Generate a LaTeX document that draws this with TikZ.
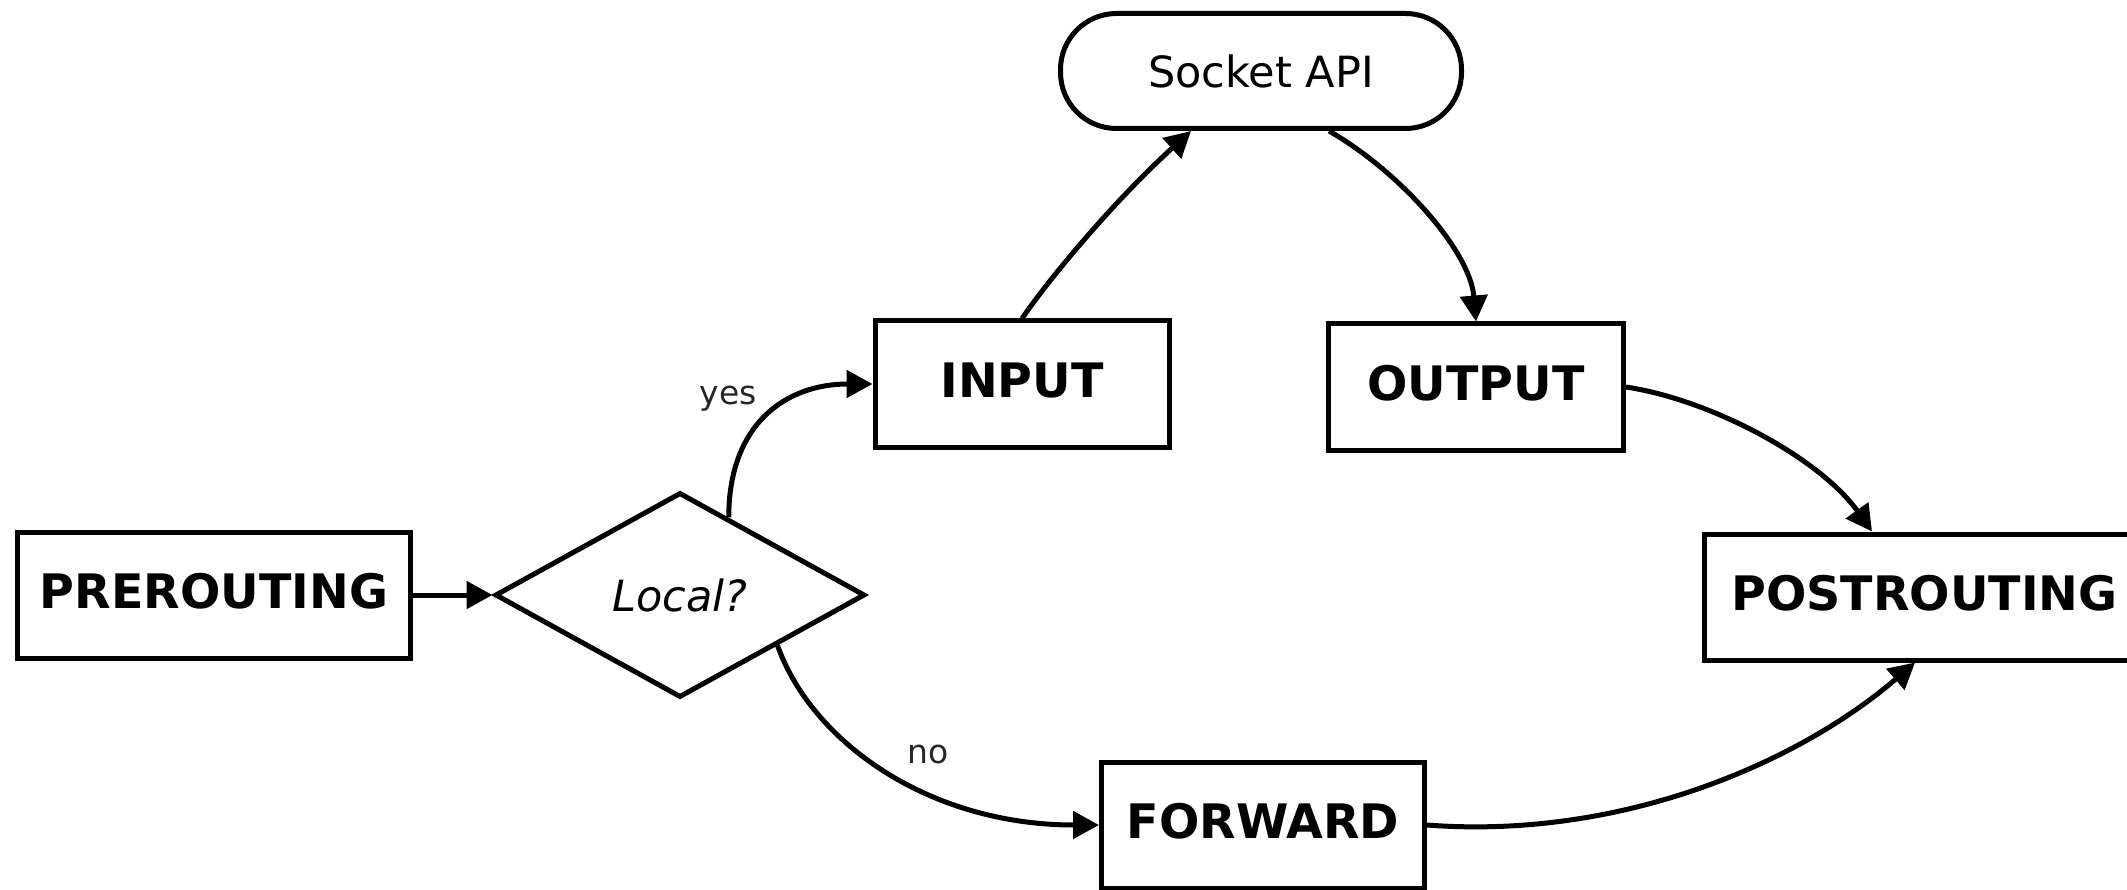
\documentclass[tikz,border=0pt]{standalone}
\usepackage{fontspec}
\setmainfont{DejaVu Sans}[BoldFont={DejaVu Sans Bold},ItalicFont={DejaVu Sans Oblique}]
\usetikzlibrary{shapes.geometric,arrows.meta,calc}

\begin{document}
\begin{tikzpicture}[x=1pt,y=-1pt,
  hook/.style={draw=black,line width=5pt,fill=white,inner sep=0pt,text depth=8pt,
    font=\fontsize{47.5}{52}\selectfont\bfseries,minimum height=126pt},
  decide/.style={draw=black,line width=5pt,fill=white,diamond,inner sep=0pt,
    font=\fontsize{43}{46}\selectfont\itshape},
  api/.style={draw=black,line width=5pt,fill=white,rounded corners=56pt,inner sep=0pt,
    font=\fontsize{43}{46}\selectfont},
  flow/.style={line width=5pt,-{Triangle[length=26pt,width=27pt]}},
  lbl/.style={font=\fontsize{33}{36}\selectfont,text=black!85}]

\useasboundingbox (0,0) rectangle (2127,890);

% netfilter hooks
\node[hook,minimum width=393pt] (pre) at (214,595) {PREROUTING};
\node[decide,minimum width=370pt,minimum height=205pt] (local) at (680,595) {Local?};
\node[hook,minimum width=294pt] (in) at (1022,384) {INPUT};
\node[hook,minimum width=295pt] (out) at (1476,387) {OUTPUT};
\node[hook,minimum width=323pt] (fwd) at (1263,825) {FORWARD};
\node[hook,minimum width=440pt,anchor=west] (post) at (1702,597) {POSTROUTING};
\node[api,minimum width=401pt,minimum height=115pt] (sock) at (1261,71) {Socket API};

% branch points on the decision diamond
\coordinate (yesstart) at ($(local.north)!0.26!(local.east)$);
\coordinate (nostart) at ($(local.south)!0.52!(local.east)$);

% packet flow
\draw[flow] (pre.east) -- (local.west);
\draw[flow] (yesstart) .. controls +(0,-95) and +(-85,0) .. (in.west);
\draw[flow] (in.north) .. controls +(28,-41) and +(-76,69) .. ($(sock.south)+(-70,0)$);
\draw[flow] ($(sock.south)+(68,0)$) .. controls +(70,40) and +(-6,-71) .. (out.north);
\draw[flow] (out.east) .. controls +(86,13) and +(-52,-73) .. ($(post.north west)+(170,0)$);
\draw[flow] (nostart) .. controls +(34,96) and +(-171,0) .. (fwd.west);
\draw[flow] (fwd.east) .. controls +(196,15) and +(-115,99) .. ($(post.south west)+(213,0)$);

% branch labels
\node[lbl] (yes) at (728,399) {yes};
\node[lbl] (no) at (928,754) {no};
\end{tikzpicture}
\end{document}
